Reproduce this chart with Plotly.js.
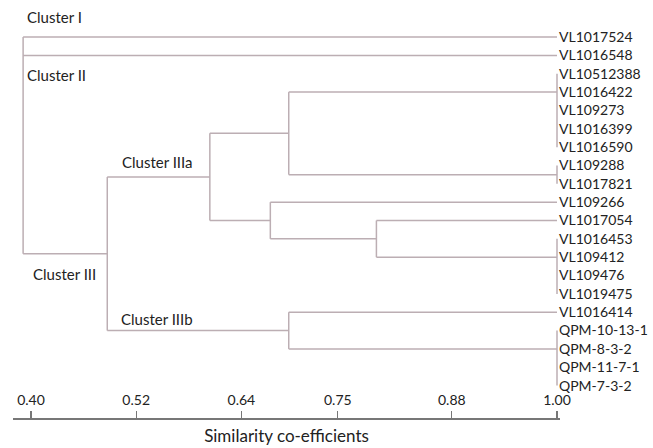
<!DOCTYPE html>
<html>
<head>
<meta charset="utf-8">
<script src="https://cdn.plot.ly/plotly-3.0.1.min.js"></script>
<style>html,body{margin:0;padding:0;background:#fff;}#chart{width:653px;height:448px;}</style>
</head>
<body>
<div id="chart"></div>
<script>
// ---- data ----
const leafLabels = ['VL1017524','VL1016548','VL10512388','VL1016422','VL109273','VL1016399','VL1016590','VL109288','VL1017821','VL109266','VL1017054','VL1016453','VL109412','VL109476','VL1019475','VL1016414','QPM-10-13-1','QPM-8-3-2','QPM-11-7-1','QPM-7-3-2'];
const nodeNames = ['G1','G2','G3','G4','C','B','A','IIIa','IIIb','III','root'];
const nodeHeights = [1.00, 1.00, 1.00, 1.00, 0.794, 0.673, 0.694, 0.604, 0.694, 0.487, 0.391];
const nodeChildren = [
  ['VL10512388','VL1016422','VL109273','VL1016399','VL1016590'],
  ['VL109288','VL1017821'],
  ['VL1016453','VL109412','VL109476','VL1019475'],
  ['QPM-10-13-1','QPM-8-3-2','QPM-11-7-1','QPM-7-3-2'],
  ['VL1017054','G3'],
  ['VL109266','C'],
  ['G1','G2'],
  ['A','B'],
  ['VL1016414','G4'],
  ['IIIa','IIIb'],
  ['VL1017524','VL1016548','III']
];
const clusterNames = ['Cluster I','Cluster II','Cluster IIIa','Cluster III','Cluster IIIb'];
const tickValues = [0.40, 0.52, 0.64, 0.75, 0.88, 1.00];
const tickLabels = ['0.40','0.52','0.64','0.75','0.88','1.00'];
const axisTitle = 'Similarity co-efficients';

// ---- build dendrogram segments ----
const attach = {}, height = {};
leafLabels.forEach((l, i) => { attach[l] = i; height[l] = 1.00; });
const xs = [], ys = [];
nodeNames.forEach((n, k) => {
  const h = nodeHeights[k];
  const kids = nodeChildren[k];
  height[n] = h;
  const isGroup = kids.every(c => leafLabels.includes(c)) && h === 1.00;
  const ay = kids.map(c => attach[c]);
  const top = Math.min(...ay), bot = Math.max(...ay);
  attach[n] = isGroup ? top + Math.min(1, (kids.length - 1) / 2) : (top + bot) / 2;
  xs.push(h, h, null); ys.push(top, bot, null);
  kids.forEach(c => {
    if (height[c] !== h) { xs.push(h, height[c], null); ys.push(attach[c], attach[c], null); }
  });
});

const FONT = 'Lato, "Open Sans", sans-serif';
const XR = [0.37947, 1.00342];
const trace = {
  x: xs, y: ys, type: 'scatter', mode: 'lines',
  line: {color: '#bcaeb3', width: 1.5},
  hoverinfo: 'skip', showlegend: false
};
const titleHolder = {x: [], y: [], type: 'scatter', mode: 'lines', xaxis: 'x2', yaxis: 'y', showlegend: false, hoverinfo: 'skip'};

const labelPos = [
  {x: 0.3932, y: -1.09},
  {x: 0.3932, y: 2.08},
  {x: 0.5015, y: 6.83},
  {x: 0.4000, y: 12.9},
  {x: 0.5004, y: 15.36}
];
const annotations = clusterNames.map((t, i) => ({
  text: t, x: labelPos[i].x, y: labelPos[i].y, xref: 'x', yref: 'y',
  xanchor: 'left', yanchor: 'middle', showarrow: false,
  font: {family: FONT, size: 15, color: '#222'}
}));

const layout = {
  width: 653, height: 448,
  margin: {l: 13, r: 93, t: 10, b: 30},
  paper_bgcolor: '#fff', plot_bgcolor: '#fff',
  font: {family: FONT, size: 14, color: '#222'},
  xaxis: {
    range: XR, side: 'top', anchor: 'free', position: 0,
    tickvals: tickValues, ticktext: tickLabels,
    ticks: 'outside', ticklen: 7, tickwidth: 1.2, tickcolor: '#777',
    showline: true, linecolor: '#777', linewidth: 1.5,
    showgrid: false, zeroline: false, automargin: false,
    tickfont: {family: FONT, size: 14, color: '#222'}
  },
  xaxis2: {
    range: XR, overlaying: 'x', anchor: 'y', side: 'bottom',
    showticklabels: false, ticks: '', showline: false, showgrid: false, zeroline: false, automargin: false,
    title: {text: axisTitle, standoff: 12, font: {family: FONT, size: 17, color: '#222'}}
  },
  yaxis: {
    range: [20.765, -1.475],
    side: 'right',
    tickvals: leafLabels.map((_, i) => i), ticktext: leafLabels,
    ticks: '', showline: false, showgrid: false, zeroline: false, automargin: false,
    ticklabelstandoff: -2,
    tickfont: {family: FONT, size: 14, color: '#222'}
  },
  annotations: annotations
};

Plotly.newPlot('chart', [trace, titleHolder], layout, {displayModeBar: false, staticPlot: true});
</script>
</body>
</html>
